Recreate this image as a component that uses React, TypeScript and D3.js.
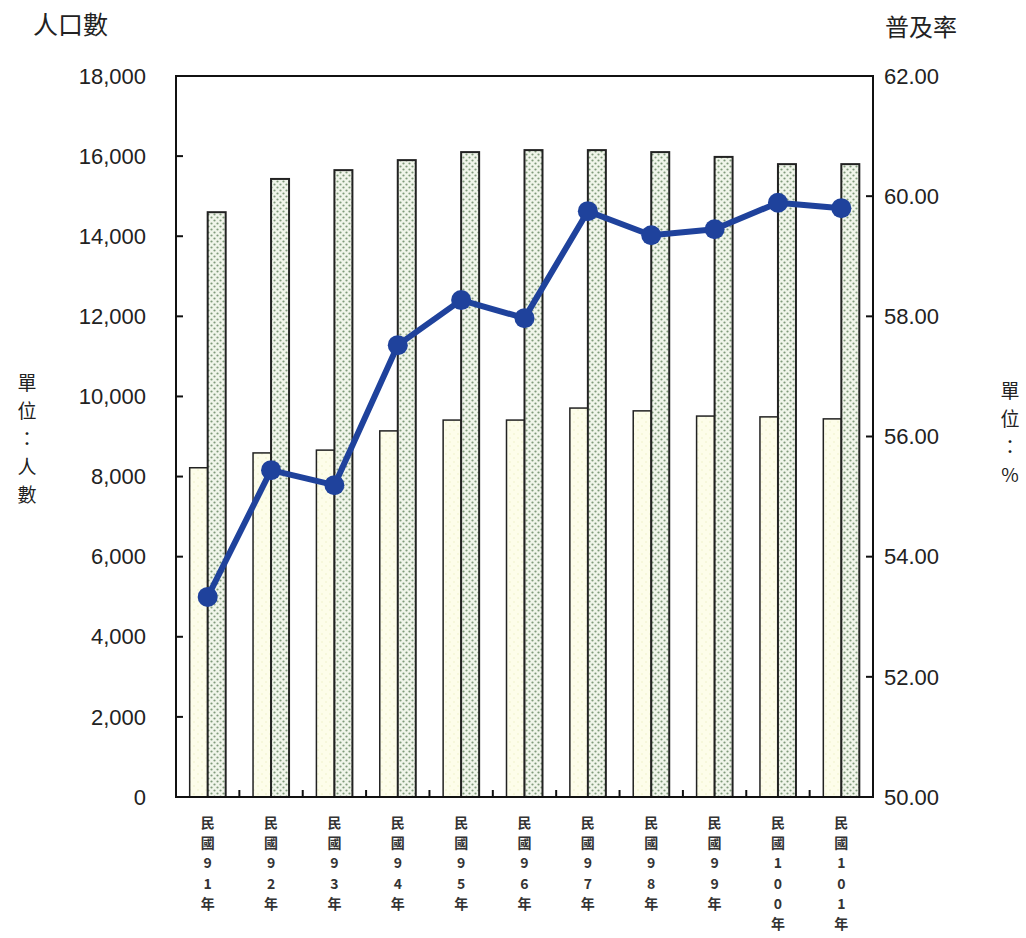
import React from "react";
import * as d3 from "d3";

const categories = ["民國91年", "民國92年", "民國93年", "民國94年", "民國95年", "民國96年", "民國97年", "民國98年", "民國99年", "民國100年", "民國101年"];
const seriesA = [8220, 8590, 8660, 9140, 9410, 9410, 9710, 9640, 9510, 9490, 9440];
const seriesB = [14600, 15430, 15650, 15900, 16100, 16150, 16150, 16100, 15980, 15800, 15800];
const rate = [53.33, 55.44, 55.19, 57.52, 58.27, 57.97, 59.75, 59.35, 59.45, 59.89, 59.8];
const leftTicks = [0, 2000, 4000, 6000, 8000, 10000, 12000, 14000, 16000, 18000];
const rightTicks = [50, 52, 54, 56, 58, 60, 62];

const W = 1026, H = 938;
const L = 176, R = 873, T = 76, B = 797;

export default function App() {
  const x = d3.scaleBand<string>().domain(categories).range([L, R]).paddingInner(0).paddingOuter(0);
  const yL = d3.scaleLinear().domain([0, 18000]).range([B, T]);
  const yR = d3.scaleLinear().domain([50, 62]).range([B, T]);
  const bw = 18;
  const cx = (c: string) => (x(c) as number) + x.bandwidth() / 2;
  const line = d3.line<number>().x((_, i) => cx(categories[i])).y((d) => yR(d));
  const fmt = d3.format(",");
  const tickFont = "'Liberation Sans', Arial, sans-serif";
  const cjk = "'Noto Sans CJK TC', sans-serif";

  return (
    <svg width={W} height={H} style={{ position: "absolute", left: 0, top: 0, background: "#fff" }}>
      <defs>
        <pattern id="dots" width="6" height="6" patternUnits="userSpaceOnUse">
          <rect width="6" height="6" fill="#f0f5ea" />
          <circle cx="1.5" cy="1.5" r="1.1" fill="#7f9a7a" />
          <circle cx="4.5" cy="4.5" r="1.1" fill="#7f9a7a" />
        </pattern>
        <pattern id="light" width="8" height="8" patternUnits="userSpaceOnUse">
          <rect width="8" height="8" fill="#fdfdea" />
          <circle cx="2" cy="2" r="0.8" fill="#eef0c8" />
          <circle cx="6" cy="6" r="0.8" fill="#eef0c8" />
        </pattern>
      </defs>
      <rect x={0} y={0} width={W} height={H} fill="#fff" />
      {categories.map((c, i) => (
        <g key={c}>
          <rect x={cx(c) - bw} y={yL(seriesA[i])} width={bw} height={B - yL(seriesA[i])} fill="url(#light)" stroke="#222" strokeWidth={1.5} />
          <rect x={cx(c)} y={yL(seriesB[i])} width={bw} height={B - yL(seriesB[i])} fill="url(#dots)" stroke="#222" strokeWidth={2} />
        </g>
      ))}
      <rect x={L} y={T} width={R - L} height={B - T} fill="none" stroke="#111" strokeWidth={2} />
      {leftTicks.map((t) => (
        <g key={"l" + t}>
          <line x1={L} x2={L + 7} y1={yL(t)} y2={yL(t)} stroke="#111" strokeWidth={2} />
          <text x={146} y={yL(t)} dy="0.35em" textAnchor="end" fontFamily={tickFont} fontSize={22} fill="#222">{fmt(t)}</text>
        </g>
      ))}
      {rightTicks.map((t) => (
        <g key={"r" + t}>
          <line x1={R - 7} x2={R} y1={yR(t)} y2={yR(t)} stroke="#111" strokeWidth={2} />
          <text x={884} y={yR(t)} dy="0.35em" textAnchor="start" fontFamily={tickFont} fontSize={22} fill="#222">{t.toFixed(2)}</text>
        </g>
      ))}
      {categories.slice(1).map((c) => (
        <line key={"x" + c} x1={x(c) as number} x2={x(c) as number} y1={B} y2={B - 7} stroke="#111" strokeWidth={2} />
      ))}
      {categories.map((c) =>
        Array.from(c).map((ch, k) => (
          <text key={"xl" + c + k} x={cx(c)} y={828 + k * 20.2} fontFamily={cjk} fontSize={14} fontWeight="bold" fill="#333" textAnchor="middle">{ch}</text>
        ))
      )}
      <path d={line(rate) as string} fill="none" stroke="#1f429c" strokeWidth={6} strokeLinejoin="round" />
      {rate.map((v, i) => (
        <circle key={"p" + i} cx={cx(categories[i])} cy={yR(v)} r={10} fill="#1f429c" />
      ))}
      <text x={33} y={34} fontFamily={cjk} fontSize={25} fill="#222">人口數</text>
      <text x={885} y={36} fontFamily={cjk} fontSize={24} fill="#222">普及率</text>
      {Array.from("單位：人數").map((ch, k) => (
        <text key={"yl" + k} x={27} y={390 + k * 28} fontFamily={cjk} fontSize={19} fill="#222" textAnchor="middle">{ch}</text>
      ))}
      {Array.from("單位：%").map((ch, k) => (
        <text key={"yr" + k} x={1010} y={398 + k * 28} fontFamily={cjk} fontSize={19} fill="#222" textAnchor="middle">{ch}</text>
      ))}
    </svg>
  );
}
